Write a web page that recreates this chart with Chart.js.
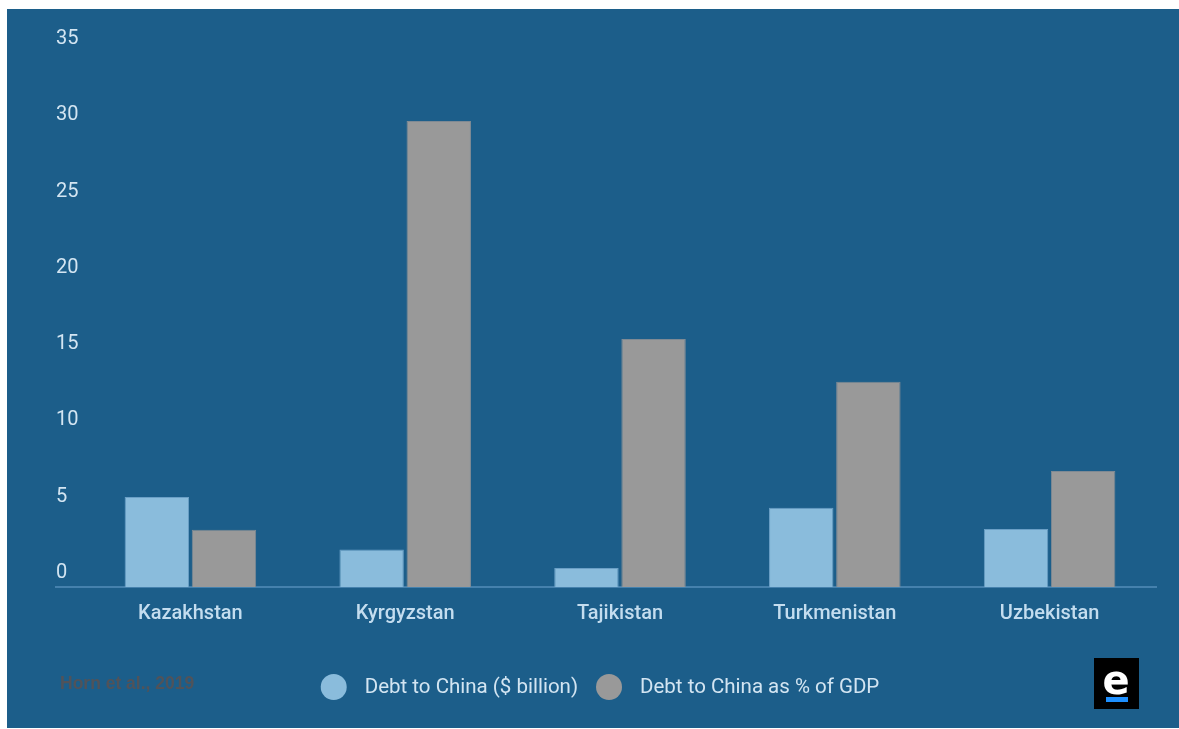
<!DOCTYPE html>
<html>
<head>
<meta charset="utf-8">
<script src="https://cdn.jsdelivr.net/npm/chart.js@4/dist/chart.umd.min.js"></script>
<style>
  html, body { margin: 0; padding: 0; background: #ffffff; }
  #wrap { position: relative; width: 1179px; height: 729px; }
</style>
</head>
<body>
<div id="wrap"><canvas id="debt-chart" width="1179" height="729"></canvas></div>
<script>
// data
const countries = ['Kazakhstan', 'Kyrgyzstan', 'Tajikistan', 'Turkmenistan', 'Uzbekistan'];
const debtBillion = [5.9, 2.45, 1.25, 5.2, 3.8];
const debtPctGdp = [3.75, 30.55, 16.25, 13.45, 7.6];
const yTicks = [0, 5, 10, 15, 20, 25, 30, 35];
const seriesNames = ['Debt to China ($ billion)', 'Debt to China as % of GDP'];

const BG = '#1c5e8a';
const TEXT = '#d3e5f2';
const FONT = 'Roboto, "Noto Sans", sans-serif';

// blue panel, baseline, source note, legend and logo
const decor = {
    id: 'decor',
    beforeDraw(chart) {
        const ctx = chart.ctx;
        ctx.save();
        ctx.fillStyle = BG;
        ctx.fillRect(7, 9, 1172, 719);
        ctx.restore();
    },
    beforeDatasetsDraw(chart) {
        const ctx = chart.ctx;
        const y = chart.scales.y.getPixelForValue(0);
        ctx.save();
        ctx.strokeStyle = '#4581ad';
        ctx.lineWidth = 2;
        ctx.beginPath();
        ctx.moveTo(55, y);
        ctx.lineTo(chart.chartArea.right, y);
        ctx.stroke();
        ctx.restore();
    },
    afterDraw(chart) {
        const ctx = chart.ctx;
        ctx.save();
        // source
        ctx.font = 'bold 17.5px "Liberation Sans", Arial, sans-serif';
        ctx.fillStyle = '#50535a';
        ctx.textBaseline = 'middle';
        ctx.fillText('Horn et al., 2019', 60, 684);

        // legend
        ctx.font = '20.5px ' + FONT;
        const ds = chart.data.datasets;
        const r = 13, gapText = 18, gapItem = 18;
        let total = 0;
        ds.forEach((d, i) => {
            total += 2 * r + gapText + ctx.measureText(d.label).width;
            if (i < ds.length - 1) total += gapItem;
        });
        let x = 600 - total / 2;
        const ly = 687;
        ds.forEach(d => {
            ctx.fillStyle = d.backgroundColor;
            ctx.beginPath();
            ctx.arc(x + r, ly, r, 0, Math.PI * 2);
            ctx.fill();
            x += 2 * r + gapText;
            ctx.fillStyle = TEXT;
            ctx.fillText(d.label, x, ly + 1);
            x += ctx.measureText(d.label).width + gapItem;
        });

        // logo
        ctx.fillStyle = '#000000';
        ctx.fillRect(1094, 658, 45, 51);
        ctx.fillStyle = '#ffffff';
        ctx.font = 'bold 40px "DejaVu Sans", sans-serif';
        ctx.textAlign = 'center';
        ctx.textBaseline = 'alphabetic';
        ctx.fillText('e', 1116, 694);
        ctx.fillStyle = '#1e90ff';
        ctx.fillRect(1106, 697, 22, 5);
        ctx.restore();
    }
};

new Chart(document.getElementById('debt-chart'), {
    type: 'bar',
    data: {
        labels: countries,
        datasets: [
            {
                label: seriesNames[0],
                data: debtBillion,
                backgroundColor: '#8abcdc',
                borderColor: '#6a9fc6',
                borderWidth: 1
            },
            {
                label: seriesNames[1],
                data: debtPctGdp,
                backgroundColor: '#999999',
                borderColor: '#7f8a94',
                borderWidth: 1
            }
        ]
    },
    options: {
        responsive: false,
        animation: false,
        devicePixelRatio: 1,
        layout: { padding: { left: 56, right: 22, top: 53, bottom: 96 } },
        datasets: { bar: { categoryPercentage: 0.625, barPercentage: 0.96 } },
        plugins: {
            legend: { display: false },
            tooltip: { enabled: false }
        },
        scales: {
            x: {
                grid: { display: false },
                border: { display: false },
                ticks: {
                    color: '#c4ddef',
                    font: { family: FONT, size: 20, weight: '500' },
                    padding: 7
                }
            },
            y: {
                min: 0,
                max: 35,
                afterFit(scale) { scale.width = 27; },
                afterBuildTicks(scale) { scale.ticks = yTicks.map(v => ({ value: v })); },
                grid: { display: false, drawTicks: false },
                border: { display: false },
                ticks: {
                    color: TEXT,
                    font: { family: FONT, size: 20 },
                    crossAlign: 'far',
                    labelOffset: -14,
                    padding: 0
                }
            }
        }
    },
    plugins: [decor]
});
</script>
</body>
</html>
